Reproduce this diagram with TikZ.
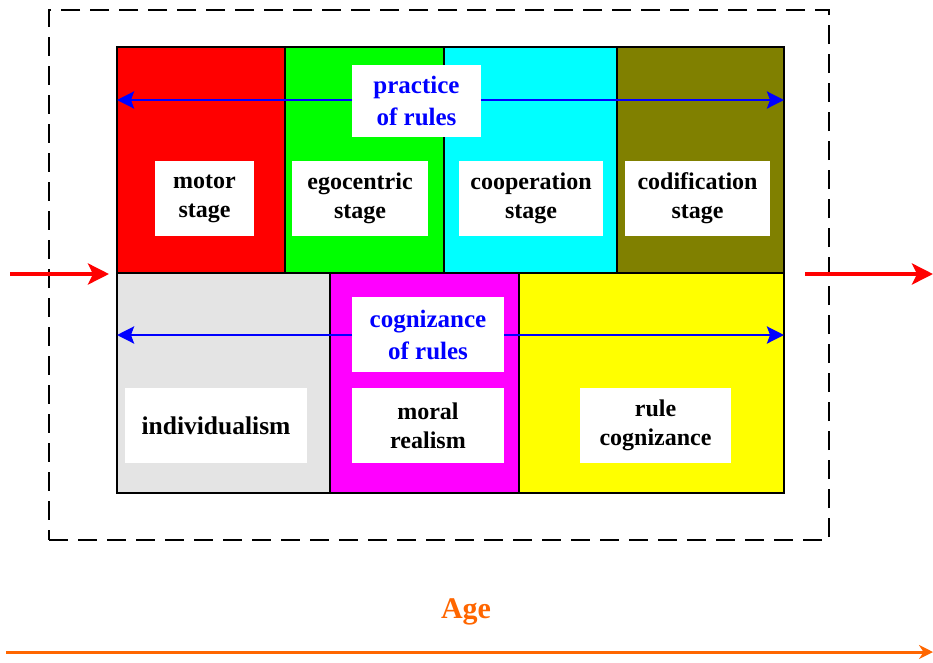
\documentclass[tikz,border=0pt]{standalone}
\usepackage{fontspec}
\setmainfont{Liberation Serif}
\usetikzlibrary{arrows.meta}
\definecolor{olivec}{RGB}{128,128,0}
\definecolor{lgray}{RGB}{228,228,228}
\definecolor{agec}{RGB}{255,102,0}
\definecolor{redc}{RGB}{255,0,0}
\definecolor{greenc}{RGB}{0,255,0}
\definecolor{cyanc}{RGB}{0,255,255}
\definecolor{magc}{RGB}{255,0,255}
\definecolor{yelc}{RGB}{255,255,0}
\definecolor{bluec}{RGB}{0,0,255}
\begin{document}
\begin{tikzpicture}[x=1pt,y=-1pt,
  cell/.style={draw=black, line width=2pt, inner sep=0pt, outer sep=0pt},
  lbl/.style={fill=white, inner sep=0pt, outer sep=0pt, align=center, text=black,
    font=\bfseries\fontsize{24}{29}\selectfont},
  blbl/.style={lbl, text=bluec, font=\bfseries\fontsize{25}{32}\selectfont},
  barrow/.style={bluec, line width=2.8pt, -{Stealth[length=17pt,width=17pt,inset=3pt]}},
  rarrow/.style={redc, line width=4pt, -{Stealth[length=21pt,width=21pt,inset=5pt]}},
  oarrow/.style={agec, line width=3pt, -{Stealth[length=14pt,width=14pt]}},
  frame/.style={draw=black, line width=2.5pt, dash pattern=on 19pt off 10pt, inner sep=0pt}]
\useasboundingbox (0,0) rectangle (933,662);
% dashed frame
\node[frame, minimum width=780pt, minimum height=530pt] (fr) at (439,275) {};
% top row
\node[cell, fill=redc,   minimum width=168pt, minimum height=226pt] (c1) at (201,160) {};
\node[cell, fill=greenc, minimum width=159pt, minimum height=226pt] (c2) at (364.5,160) {};
\node[cell, fill=cyanc,  minimum width=173pt, minimum height=226pt] (c3) at (530.5,160) {};
\node[cell, fill=olivec, minimum width=167pt, minimum height=226pt] (c4) at (700.5,160) {};
% bottom row
\node[cell, fill=lgray, minimum width=213pt, minimum height=220pt] (b1) at (223.5,383) {};
\node[cell, fill=magc,  minimum width=189pt, minimum height=220pt] (b2) at (424.5,383) {};
\node[cell, fill=yelc,  minimum width=265pt, minimum height=220pt] (b3) at (651.5,383) {};
% labels top
\node[lbl, minimum width=99pt,  minimum height=75pt] (motor) at (204.5,198.5) {motor\\stage};
\node[lbl, minimum width=136pt, minimum height=75pt] (ego)   at (360,198.5) {egocentric\\stage};
\node[lbl, minimum width=144pt, minimum height=75pt] (coop)  at (531,198.5) {cooperation\\stage};
\node[lbl, minimum width=145pt, minimum height=75pt] (codif) at (697.5,198.5) {codification\\stage};
\node[blbl, minimum width=129pt, minimum height=72pt] (prac)  at (416.5,101) {practice\\of rules};
% labels bottom
\node[blbl, minimum width=152pt, minimum height=75pt] (cogn)  at (428,334.5) {cognizance\\of rules};
\node[lbl, minimum width=182pt, minimum height=75pt, font=\bfseries\fontsize{25.5}{29}\selectfont] (indiv) at (216,425.5) {individualism};
\node[lbl, minimum width=152pt, minimum height=75pt] (moral) at (428,425.5) {moral\\realism};
\node[lbl, minimum width=151pt, minimum height=75pt] (rulec) at (655.5,425.5) {rule\\cognizance};
% blue arrows
\draw[barrow] (prac.west |- 0,100) -- (c1.west |- 0,100);
\draw[barrow] (prac.east |- 0,100) -- (c4.east |- 0,100);
\draw[barrow] (cogn.west |- 0,335) -- (b1.west |- 0,335);
\draw[barrow] (cogn.east |- 0,335) -- (b3.east |- 0,335);
% red arrows
\coordinate (inS) at (10,274);
\coordinate (inE) at (109,274);
\coordinate (outS) at (805,274);
\coordinate (outE) at (933,274);
\draw[rarrow] (inS) -- (inE);
\draw[rarrow] (outS) -- (outE);
% age
\node[text=agec, font=\bfseries\fontsize{30}{36}\selectfont] (age) at (466,612) {Age};
\coordinate (ageS) at (6,652);
\coordinate (ageE) at (933,652);
\draw[oarrow] (ageS) -- (ageE);
\end{tikzpicture}
\end{document}
